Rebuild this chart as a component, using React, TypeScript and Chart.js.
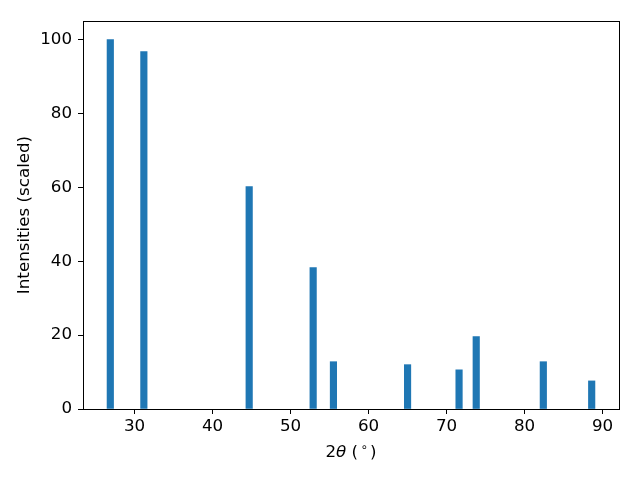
import React, { useEffect, useRef } from "react";
import { Chart, registerables } from "chart.js";

Chart.register(...registerables);

const peakPositions = [26.9, 31.2, 44.7, 52.9, 55.5, 65.0, 71.6, 73.8, 82.4, 88.6];
const peakIntensities = [100, 96.7, 60.2, 38.3, 12.8, 12.0, 10.6, 19.6, 12.8, 7.6];
const xTicks = [30, 40, 50, 60, 70, 80, 90];
const yTicks = [0, 20, 40, 60, 80, 100];

const FONT = "'DejaVu Sans', sans-serif";
const FS = 16.7;

const boxPlugin = {
  id: "box",
  afterDraw(chart: any) {
    const { ctx, chartArea } = chart;
    ctx.save();
    ctx.strokeStyle = "#000";
    ctx.lineWidth = 1;
    ctx.strokeRect(
      Math.round(chartArea.left) + 0.5,
      Math.round(chartArea.top) + 0.5,
      Math.round(chartArea.right - chartArea.left),
      Math.round(chartArea.bottom - chartArea.top)
    );
    // x-axis title with italic theta and superscript degree
    const parts = [
      { t: "2", f: `${FS}px ${FONT}`, dy: 0 },
      { t: "θ", f: `oblique ${FS}px ${FONT}`, dy: 0 },
      { t: " (", f: `${FS}px ${FONT}`, dy: 0 },
      { t: "\u2009∘\u2009", f: `${FS * 0.7}px ${FONT}`, dy: -6 },
      { t: ")", f: `${FS}px ${FONT}`, dy: 0 },
    ];
    let total = 0;
    const widths: number[] = [];
    for (const p of parts) {
      ctx.font = p.f;
      const w = ctx.measureText(p.t).width;
      widths.push(w);
      total += w;
    }
    let x = (chartArea.left + chartArea.right) / 2 - total / 2;
    const baseY = 457;
    ctx.fillStyle = "#000";
    ctx.textBaseline = "alphabetic";
    ctx.textAlign = "left";
    parts.forEach((p, i) => {
      ctx.font = p.f;
      ctx.fillText(p.t, x, baseY + p.dy);
      x += widths[i];
    });
    ctx.restore();
  },
};

export default function App() {
  const ref = useRef<HTMLCanvasElement>(null);
  useEffect(() => {
    document.body.style.margin = "0";
    const canvas = ref.current!;
    const chart = new Chart(canvas, {
      type: "bar",
      data: {
        datasets: [
          {
            data: peakPositions.map((x, i) => ({ x, y: peakIntensities[i] })),
            backgroundColor: "#1f77b4",
            borderWidth: 0,
            barThickness: 6.5,
          },
        ],
      },
      options: {
        animation: false,
        responsive: false,
        devicePixelRatio: 1,
        layout: { padding: { top: 21, right: 21, left: 0, bottom: 0 } },
        plugins: { legend: { display: false }, tooltip: { enabled: false } },
        scales: {
          x: {
            type: "linear",
            min: 23.4,
            max: 92.1,
            offset: false,
            afterBuildTicks: (s: any) => {
              s.ticks = xTicks.map((v) => ({ value: v }));
            },
            afterFit: (s: any) => {
              s.height = 71;
            },
            border: { display: false },
            grid: {
              offset: false,
              drawOnChartArea: false,
              drawTicks: true,
              tickLength: 5,
              color: "#000",
              tickColor: "#000",
            },
            ticks: {
              color: "#000",
              font: { family: FONT, size: FS },
              padding: 3,
              maxRotation: 0,
            },
          },
          y: {
            type: "linear",
            min: 0,
            max: 105,
            afterBuildTicks: (s: any) => {
              s.ticks = yTicks.map((v) => ({ value: v }));
            },
            afterFit: (s: any) => {
              s.width = 83;
            },
            border: { display: false },
            grid: {
              offset: false,
              drawOnChartArea: false,
              drawTicks: true,
              tickLength: 5,
              color: "#000",
              tickColor: "#000",
            },
            ticks: {
              color: "#000",
              font: { family: FONT, size: FS },
              padding: 6,
            },
            title: {
              display: true,
              text: "Intensities (scaled)",
              color: "#000",
              font: { family: FONT, size: FS },
              padding: { top: 15, bottom: 0 },
            },
          },
        },
      },
      plugins: [boxPlugin],
    } as any);
    return () => chart.destroy();
  }, []);
  return (
    <div style={{ position: "absolute", left: 0, top: 0, width: 640, height: 480, background: "#fff" }}>
      <canvas ref={ref} width={640} height={480} style={{ width: 640, height: 480 }} />
    </div>
  );
}
